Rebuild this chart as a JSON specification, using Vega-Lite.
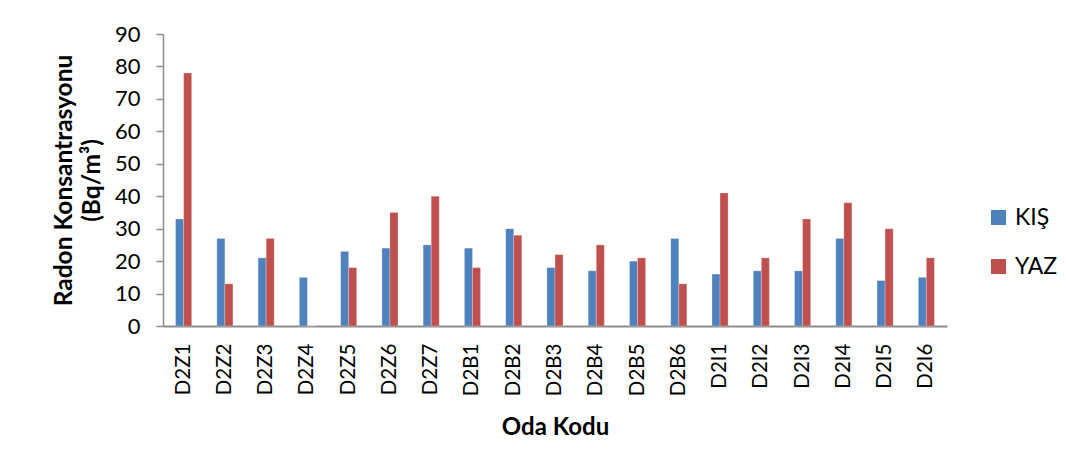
{
  "$schema": "https://vega.github.io/schema/vega-lite/v6.json",
  "autosize": "none",
  "width": 784,
  "height": 292,
  "padding": {"left": 163, "top": 34, "right": 119, "bottom": 148},
  "background": "white",
  "data": {
    "values": [
      {"oda": "D2Z1", "mevsim": "KIŞ", "deger": 33}, {"oda": "D2Z1", "mevsim": "YAZ", "deger": 78},
      {"oda": "D2Z2", "mevsim": "KIŞ", "deger": 27}, {"oda": "D2Z2", "mevsim": "YAZ", "deger": 13},
      {"oda": "D2Z3", "mevsim": "KIŞ", "deger": 21}, {"oda": "D2Z3", "mevsim": "YAZ", "deger": 27},
      {"oda": "D2Z4", "mevsim": "KIŞ", "deger": 15}, {"oda": "D2Z4", "mevsim": "YAZ", "deger": 0},
      {"oda": "D2Z5", "mevsim": "KIŞ", "deger": 23}, {"oda": "D2Z5", "mevsim": "YAZ", "deger": 18},
      {"oda": "D2Z6", "mevsim": "KIŞ", "deger": 24}, {"oda": "D2Z6", "mevsim": "YAZ", "deger": 35},
      {"oda": "D2Z7", "mevsim": "KIŞ", "deger": 25}, {"oda": "D2Z7", "mevsim": "YAZ", "deger": 40},
      {"oda": "D2B1", "mevsim": "KIŞ", "deger": 24}, {"oda": "D2B1", "mevsim": "YAZ", "deger": 18},
      {"oda": "D2B2", "mevsim": "KIŞ", "deger": 30}, {"oda": "D2B2", "mevsim": "YAZ", "deger": 28},
      {"oda": "D2B3", "mevsim": "KIŞ", "deger": 18}, {"oda": "D2B3", "mevsim": "YAZ", "deger": 22},
      {"oda": "D2B4", "mevsim": "KIŞ", "deger": 17}, {"oda": "D2B4", "mevsim": "YAZ", "deger": 25},
      {"oda": "D2B5", "mevsim": "KIŞ", "deger": 20}, {"oda": "D2B5", "mevsim": "YAZ", "deger": 21},
      {"oda": "D2B6", "mevsim": "KIŞ", "deger": 27}, {"oda": "D2B6", "mevsim": "YAZ", "deger": 13},
      {"oda": "D2I1", "mevsim": "KIŞ", "deger": 16}, {"oda": "D2I1", "mevsim": "YAZ", "deger": 41},
      {"oda": "D2I2", "mevsim": "KIŞ", "deger": 17}, {"oda": "D2I2", "mevsim": "YAZ", "deger": 21},
      {"oda": "D2I3", "mevsim": "KIŞ", "deger": 17}, {"oda": "D2I3", "mevsim": "YAZ", "deger": 33},
      {"oda": "D2I4", "mevsim": "KIŞ", "deger": 27}, {"oda": "D2I4", "mevsim": "YAZ", "deger": 38},
      {"oda": "D2I5", "mevsim": "KIŞ", "deger": 14}, {"oda": "D2I5", "mevsim": "YAZ", "deger": 30},
      {"oda": "D2I6", "mevsim": "KIŞ", "deger": 15}, {"oda": "D2I6", "mevsim": "YAZ", "deger": 21}
    ]
  },
  "mark": {"type": "bar", "stroke": "white", "strokeOpacity": 0.5, "strokeWidth": 0.5},
  "encoding": {
    "x": {
      "field": "oda",
      "type": "nominal",
      "sort": null,
      "scale": {"paddingInner": 0.61, "paddingOuter": 0.305},
      "axis": {
        "title": "Oda Kodu",
        "titleFont": "Lato",
        "titleFontSize": 24,
        "titleFontWeight": "bold",
        "titleColor": "black",
        "titlePadding": 20,
        "labelAngle": -90,
        "labelFont": "Lato",
        "labelFontSize": 20.5,
        "labelColor": "black",
        "labelPadding": 17,
        "ticks": false,
        "domainColor": "#8c8c8c",
        "domainWidth": 2
      }
    },
    "xOffset": {"field": "mevsim", "type": "nominal", "scale": {"paddingInner": 0, "paddingOuter": 0}},
    "y": {
      "field": "deger",
      "type": "quantitative",
      "scale": {"domain": [0, 90]},
      "axis": {
        "values": [0, 10, 20, 30, 40, 50, 60, 70, 80, 90],
        "title": ["Radon Konsantrasyonu", "(Bq/m³)"],
        "titleFont": "Lato",
        "titleFontSize": 24.5,
        "titleFontWeight": "bold",
        "titleColor": "black",
        "titleLineHeight": 28,
        "titlePadding": 10,
        "labelFont": "Lato",
        "labelFontSize": 22,
        "labelColor": "black",
        "labelPadding": 16,
        "grid": false,
        "tickSize": 7,
        "tickColor": "#8c8c8c",
        "tickWidth": 1.5,
        "domainColor": "#8c8c8c",
        "domainWidth": 1.5
      }
    },
    "color": {
      "field": "mevsim",
      "type": "nominal",
      "scale": {"domain": ["KIŞ", "YAZ"], "range": ["#4F81BD", "#C0504D"]},
      "legend": {
        "title": null,
        "orient": "none",
        "legendX": 824,
        "legendY": 172,
        "symbolType": "square",
        "symbolSize": 225,
        "symbolStrokeWidth": 0,
        "labelFont": "Lato",
        "labelFontSize": 23,
        "labelColor": "black",
        "rowPadding": 25,
        "labelOffset": 5
      }
    }
  },
  "config": {"view": {"stroke": null}}
}
